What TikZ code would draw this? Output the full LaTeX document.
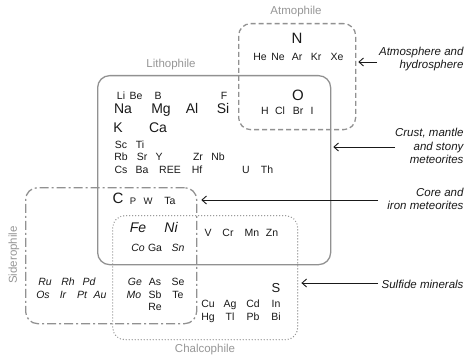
\documentclass[tikz,border=0pt]{standalone}
\usepackage{fontspec}
\setmainfont{Liberation Sans}
\usetikzlibrary{arrows.meta}
\definecolor{boxgray}{RGB}{145,145,145}
\definecolor{labgray}{RGB}{150,150,150}
\definecolor{ink}{RGB}{25,25,25}
\begin{document}
\begin{tikzpicture}[x=1pt, y=-1pt,
    group/.style={draw=boxgray, rounded corners=12pt, line width=1.3pt,
      inner sep=0pt, anchor=north west},
    grouplabel/.style={text=labgray, font=\fontsize{11.5pt}{13pt}\selectfont},
    el/.style={text=ink, inner sep=0pt, text height=.72em, text depth=0pt,
      font=\fontsize{10.5pt}{12pt}\selectfont},
    elbig/.style={el, font=\fontsize{14pt}{16pt}\selectfont},
    elit/.style={el, font=\fontsize{10.5pt}{12pt}\selectfont\itshape},
    elitbig/.style={el, font=\fontsize{14pt}{16pt}\selectfont\itshape},
    where/.style={text=ink, align=right, anchor=east,
      font=\fontsize{11.5pt}{13.5pt}\selectfont\itshape},
    arr/.style={-{Straight Barb[length=4.5pt, width=8pt]}, line width=0.9pt, ink}]
  \useasboundingbox (0,0) rectangle (470,358);
  % the four groups
  \node[group, minimum width=233pt, minimum height=189pt] (litho) at (97,75) {};
  \node[group, dash pattern=on 5pt off 3pt, minimum width=117pt,
    minimum height=106pt] (atmo) at (238,23) {};
  \node[group, dash pattern=on 9pt off 3pt on 2pt off 3pt, minimum width=171pt,
    minimum height=136pt] (sidero) at (25,187) {};
  \node[group, dash pattern=on 0pt off 3pt, line cap=round, line width=1.4pt,
    minimum width=185pt, minimum height=124pt] (chalco) at (112,215) {};
  \node[grouplabel] (atmolab) at (296,12) {Atmophile};
  \node[grouplabel] (litholab) at (171,65) {Lithophile};
  \node[grouplabel, rotate=90] (siderolab) at (14,255) {Siderophile};
  \node[grouplabel] (chalcolab) at (205,350) {Chalcophile};
  % elements
  \foreach \s/\x/\y in {Li/121/96, Be/136/96, B/158/96, F/224/96,
      Sc/121/145, Ti/140/145, Rb/121/157, Sr/142/157, Y/159/157, Zr/198/157,
      Nb/218/157, Cs/121/170, Ba/142/170, REE/170/170, Hf/197/170, U/246/170,
      Th/267/170, He/260/57, Ne/278/57, Ar/297/57, Kr/316/57, Xe/337/57,
      H/265/111, Cl/280/111, Br/298/111, I/312/111,
      Ta/170/201, Ga/155/248, V/208/233, Cr/228/233, Mn/252/233, Zn/272/233,
      As/155/282, Se/178/282, Sb/155/295, Te/178/295, Re/155/307,
      Cu/208/304, Ag/230/304, Cd/253/304, In/276/304,
      Hg/208/317, Tl/230/317, Pb/253/317, Bi/276/317}
    \node[el] (e-\s) at (\x,\y) {\s};
  \node[el, font=\fontsize{9.5pt}{11pt}\selectfont] (e-P) at (133,201) {P};
  \node[el, font=\fontsize{9.5pt}{11pt}\selectfont] (e-W) at (148,201) {W};
  \foreach \s/\x/\y in {Na/123/110, Mg/161/110, Al/192/110, Si/223/110,
      K/118/129, Ca/158/129}
    \node[elbig] (e-\s) at (\x,\y) {\s};
  \node[elbig, font=\fontsize{15pt}{17pt}\selectfont] (e-N) at (297,40) {N};
  \node[elbig, font=\fontsize{15pt}{17pt}\selectfont] (e-O) at (298,97) {O};
  \node[elbig, font=\fontsize{15pt}{17pt}\selectfont] (e-C) at (118,200) {C};
  \node[elbig, font=\fontsize{13pt}{15pt}\selectfont] (e-S) at (276,289) {S};
  \foreach \s/\x/\y in {Co/138/248, Sn/178/248, Ru/45/282, Rh/68/282,
      Pd/89/282, Os/43/295, Ir/63/295, Pt/82/295, Au/100/295,
      Ge/135/282, Mo/134/295}
    \node[elit] (e-\s) at (\x,\y) {\s};
  \node[elitbig] (e-Fe) at (138,229) {Fe};
  \node[elitbig] (e-Ni) at (171,229) {Ni};
  % reservoirs
  \node[where] (atmtext) at (467,59) {Atmosphere and\\hydrosphere};
  \node[where] (crusttext) at (467,146) {Crust, mantle\\and stony\\meteorites};
  \node[where] (coretext) at (467,199) {Core and\\iron meteorites};
  \node[where] (sulftext) at (467,284) {Sulfide minerals};
  \coordinate (atmtail) at (377,62);
  \coordinate (crusttail) at (395,147);
  \coordinate (coretail) at (378,200);
  \coordinate (sulftail) at (378,283);
  \draw[arr] (atmtail) -- ([xshift=2pt]atmo.east |- atmtail);
  \draw[arr] (crusttail) -- ([xshift=2pt]litho.east |- crusttail);
  \draw[arr] (coretail) -- ([xshift=4pt]sidero.east |- coretail);
  \draw[arr] (sulftail) -- ([xshift=3pt]chalco.east |- sulftail);
\end{tikzpicture}
\end{document}
